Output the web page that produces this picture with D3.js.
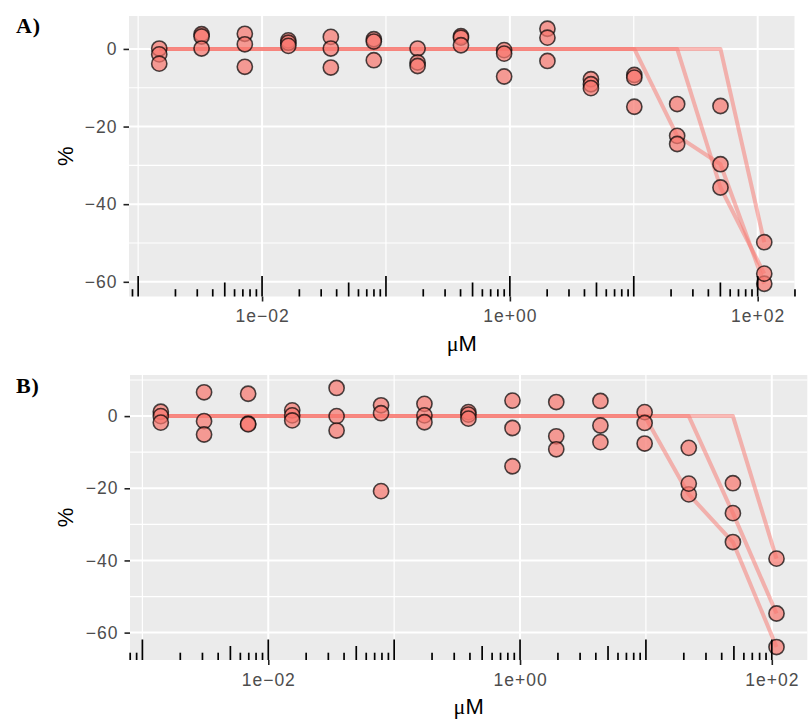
<!DOCTYPE html>
<html>
<head>
<meta charset="utf-8">
<script src="https://cdn.jsdelivr.net/npm/d3@7"></script>
<style>
	body { margin: 0; background: #fff; }
	svg { display: block; }
</style>
</head>
<body>
<svg id="chart"></svg>
<script>
// concentrations (µM)
const concA = [0.00148, 0.00325, 0.00726, 0.0163, 0.0359, 0.0798, 0.180, 0.403, 0.899, 2.01, 4.51, 10.1, 22.4, 50.1, 113];
const concB = [0.00140, 0.00309, 0.00692, 0.0155, 0.0349, 0.0787, 0.174, 0.389, 0.871, 1.94, 4.35, 9.77, 21.9, 49.1, 109];

// replicates, % response
const repA1 = [0.1, 3.8, 3.9, 2.2, 3.1, 2.5, 0.1, 3.3, -0.3, 5.2, -7.8, -6.7, -22.4, -29.7, -60.5];
const repA2 = [-1.4, 3.2, 1.2, 1.6, 0.1, 1.9, -3.5, 2.9, -1.2, 2.9, -9.1, -7.4, -24.5, -35.7, -57.9];
const repA3 = [-3.8, 0.1, -4.6, 0.8, -4.8, -2.9, -4.4, 0.95, -7.1, -3.1, -10.1, -14.9, -14.2, -14.7, -49.8];

const repB1 = [1.2, 6.6, 6.2, 1.6, 7.8, 3.0, 3.4, 1.1, 4.3, 3.9, 4.2, 1.1, -21.7, -34.9, -64.0];
const repB2 = [0, -1.4, -2.1, 0.2, 0, 0.8, 0.2, 0.4, -3.3, -5.6, -2.6, -1.9, -18.7, -26.9, -54.7];
const repB3 = [-1.8, -5.1, -2.3, -1.2, -4.0, -20.8, -1.7, -0.7, -13.9, -9.2, -7.2, -7.6, -8.8, -18.6, -39.5];

// fitted lines (one per replicate)
const fitA1 = [0, 0, 0, 0, 0, 0, 0, 0, 0, 0, 0, 0, -22.4, -29.7, -60.5];
const fitA2 = [0, 0, 0, 0, 0, 0, 0, 0, 0, 0, 0, 0, 0, -35.7, -57.9];
const fitA3 = [0, 0, 0, 0, 0, 0, 0, 0, 0, 0, 0, 0, 0, 0, -49.8];

const fitB1 = [0, 0, 0, 0, 0, 0, 0, 0, 0, 0, 0, 0, -21.7, -34.9, -64.0];
const fitB2 = [0, 0, 0, 0, 0, 0, 0, 0, 0, 0, 0, 0, 0, -26.9, -54.7];
const fitB3 = [0, 0, 0, 0, 0, 0, 0, 0, 0, 0, 0, 0, 0, 0, -39.5];

const yBreaks = [0, -20, -40, -60];
const yMinor = [10, -10, -30, -50];
const xBreaks = [1e-2, 1e0, 1e2];
const xMinor = [1e-3, 1e-1, 1e1];

const panels = [
	{ tag: 'A)', conc: concA, reps: [repA1, repA2, repA3], fits: [fitA1, fitA2, fitA3],
		box: { left: 129, right: 794.5, top: 16, bottom: 296.5 }, tagY: 33 },
	{ tag: 'B)', conc: concB, reps: [repB1, repB2, repB3], fits: [fitB1, fitB2, fitB3],
		box: { left: 130, right: 807.3, top: 375, bottom: 660 }, tagY: 393 }
];

const SANS = '"Liberation Sans", Arial, Helvetica, sans-serif';
const FILL = '#F8766D';

const svg = d3.select('#chart').attr('width', 812).attr('height', 722);
svg.append('rect').attr('width', 812).attr('height', 722).attr('fill', '#fff');

// ggplot-style 5% expansion
function expand([a, b]) {
	const r = b - a;
	return [a - 0.05 * r, b + 0.05 * r];
}

function fmtExp(d) {
	const e = Math.round(Math.log10(d));
	return `1e${e < 0 ? '\u2212' : '+'}${String(Math.abs(e)).padStart(2, '0')}`;
}

panels.forEach((p) => {
	const { left, right, top, bottom } = p.box;

	const logExt = expand(d3.extent(p.conc, (c) => Math.log10(c)));
	const x = d3.scaleLog([10 ** logExt[0], 10 ** logExt[1]], [left, right]);
	const yExt = expand(d3.extent([...p.reps.flat(), ...p.fits.flat()]));
	const y = d3.scaleLinear(yExt, [bottom, top]);

	const g = svg.append('g');

	/** PANEL *****************************************************************/
	g.append('rect')
		.attr('x', left)
		.attr('y', top)
		.attr('width', right - left)
		.attr('height', bottom - top)
		.attr('fill', '#EBEBEB');

	const inY = (v) => y(v) >= top && y(v) <= bottom;
	const inX = (v) => x(v) >= left && x(v) <= right;

	g.selectAll('.grid-minor-y')
		.data(yMinor.filter(inY))
		.enter()
		.append('line')
		.attr('x1', left).attr('x2', right)
		.attr('y1', (d) => y(d)).attr('y2', (d) => y(d))
		.attr('stroke', '#fff').attr('stroke-width', 1.2);

	g.selectAll('.grid-minor-x')
		.data(xMinor.filter(inX))
		.enter()
		.append('line')
		.attr('y1', top).attr('y2', bottom)
		.attr('x1', (d) => x(d)).attr('x2', (d) => x(d))
		.attr('stroke', '#fff').attr('stroke-width', 1.2);

	g.selectAll('.grid-major-y')
		.data(yBreaks.filter(inY))
		.enter()
		.append('line')
		.attr('x1', left).attr('x2', right)
		.attr('y1', (d) => y(d)).attr('y2', (d) => y(d))
		.attr('stroke', '#fff').attr('stroke-width', 2);

	g.selectAll('.grid-major-x')
		.data(xBreaks.filter(inX))
		.enter()
		.append('line')
		.attr('y1', top).attr('y2', bottom)
		.attr('x1', (d) => x(d)).attr('x2', (d) => x(d))
		.attr('stroke', '#fff').attr('stroke-width', 2);

	/** FITS ******************************************************************/
	const line = d3.line()
		.x((d, j) => x(p.conc[j]))
		.y((d) => y(d));

	g.selectAll('.fit')
		.data(p.fits)
		.enter()
		.append('path')
		.attr('fill', 'none')
		.attr('stroke', FILL)
		.attr('stroke-opacity', 0.5)
		.attr('stroke-width', 4)
		.attr('stroke-linejoin', 'round')
		.attr('d', (d) => line(d));

	/** POINTS ****************************************************************/
	p.reps.forEach((rep) => {
		g.selectAll(null)
			.data(rep)
			.enter()
			.append('circle')
			.attr('cx', (d, j) => x(p.conc[j]))
			.attr('cy', (d) => y(d))
			.attr('r', 7.6)
			.attr('fill', FILL)
			.attr('fill-opacity', 0.7)
			.attr('stroke', '#000')
			.attr('stroke-opacity', 0.7)
			.attr('stroke-width', 1.6);
	});

	/** LOG TICKS *************************************************************/
	const logTicks = [];
	for (let k = Math.floor(logExt[0]); k <= Math.ceil(logExt[1]); k++) {
		for (let m = 1; m <= 9; m++) {
			const v = m * 10 ** k;
			if (x(v) >= left - 0.5 && x(v) <= right + 1) logTicks.push({ v, m });
		}
	}
	g.selectAll('.logtick')
		.data(logTicks)
		.enter()
		.append('line')
		.attr('x1', (d) => x(d.v)).attr('x2', (d) => x(d.v))
		.attr('y1', bottom)
		.attr('y2', (d) => bottom - (d.m === 1 ? 20.5 : d.m === 5 ? 14 : 7.3))
		.attr('stroke', '#000')
		.attr('stroke-width', 1.7);

	/** AXES ******************************************************************/
	const leftAxis = d3.axisLeft(y)
		.tickValues(yBreaks)
		.tickSize(5.5)
		.tickPadding(6)
		.tickFormat(d3.format('d'));
	const yAxisG = g.append('g')
		.attr('transform', `translate(${left}, 0)`)
		.call(leftAxis);

	const bottomAxis = d3.axisBottom(x)
		.tickValues(xBreaks)
		.tickSize(5)
		.tickPadding(8.3)
		.tickFormat(fmtExp);
	const xAxisG = g.append('g')
		.attr('transform', `translate(0, ${bottom})`)
		.call(bottomAxis);

	[yAxisG, xAxisG].forEach((a) => {
		a.select('.domain').remove();
		a.selectAll('.tick line').attr('stroke', '#222').attr('stroke-width', 1.6);
		a.selectAll('.tick text')
			.attr('fill', '#4D4D4D')
			.style('font-family', SANS)
			.style('font-size', '17.5px')
			.style('letter-spacing', '1px');
	});
	yAxisG.attr('font-family', null).attr('font-size', null);
	xAxisG.attr('font-family', null).attr('font-size', null);

	/** TITLES ****************************************************************/
	const xTitle = g.append('text')
		.attr('x', (left + right) / 2)
		.attr('y', bottom + 54)
		.attr('text-anchor', 'middle')
		.style('font-family', SANS)
		.style('font-size', '22px')
		.attr('fill', '#000');
	xTitle.append('tspan').style('font-family', '"Liberation Serif", "DejaVu Serif", serif').text('\u03BC');
	xTitle.append('tspan').text('M');

	g.append('text')
		.attr('transform', `translate(73, ${(top + bottom) / 2}) rotate(-90)`)
		.attr('text-anchor', 'middle')
		.style('font-family', SANS)
		.style('font-size', '22px')
		.attr('fill', '#000')
		.text('%');

	g.append('text')
		.attr('x', 16)
		.attr('y', p.tagY)
		.style('font-family', '"Liberation Serif", "Times New Roman", serif')
		.style('font-weight', 'bold')
		.style('font-size', '22px')
		.style('letter-spacing', '0.8px')
		.attr('fill', '#000')
		.text(p.tag);
});
</script>
</body>
</html>
